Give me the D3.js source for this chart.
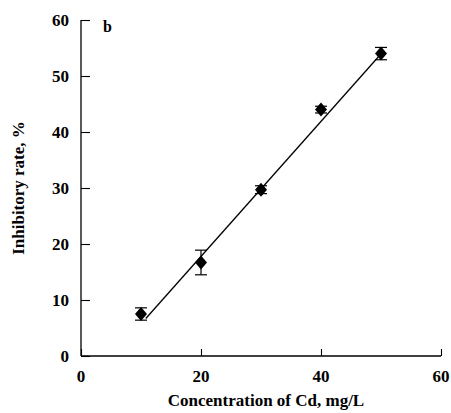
<!DOCTYPE html>
<html><head><meta charset="utf-8">
<script src="https://cdn.jsdelivr.net/npm/d3@7"></script>
<style>body{margin:0;background:#fff}svg{display:block}
text{font-family:"Liberation Serif","Times New Roman","DejaVu Serif",serif;font-weight:bold}</style>
</head><body>
<svg id="c" width="451" height="413"></svg>
<script>
const concentration = [10, 20, 30, 40, 50];
const inhibition = [7.5, 16.7, 29.7, 44.0, 54.0];
const errors = [1.1, 2.2, 0.7, 0.6, 1.1];
const fitX = [10.8, 49.8];
const fitY = [6.7, 53.7];
const xTicks = [0, 20, 40, 60];
const yTicks = [0, 10, 20, 30, 40, 50, 60];

const svg = d3.select("#c");
const x = d3.scaleLinear().domain([0, 60]).range([81, 441]);
const y = d3.scaleLinear().domain([0, 60]).range([356, 20]);

const yAxis = svg.append("g").attr("transform", "translate(81,0)")
  .call(d3.axisRight(y).tickValues(yTicks).tickSize(9).tickFormat(""));
const xAxis = svg.append("g").attr("transform", "translate(0,356)")
  .call(d3.axisTop(x).tickValues(xTicks).tickSize(7).tickFormat(""));
[yAxis, xAxis].forEach(a => {
  a.select(".domain").attr("stroke", "#000").attr("stroke-width", 1.3);
  a.selectAll(".tick line").attr("stroke", "#000").attr("stroke-width", 1.1);
});
xAxis.select(".domain").attr("d", "M81,0H441");
yAxis.select(".domain").attr("d", "M0,20V356");

svg.append("g").selectAll("text").data(yTicks).join("text")
  .attr("x", 69).attr("y", d => y(d)).attr("dy", "0.35em")
  .attr("text-anchor", "end").style("font-size", "17px").text(d => d);
svg.append("g").selectAll("text").data(xTicks).join("text")
  .attr("x", d => x(d)).attr("y", 382)
  .attr("text-anchor", "middle").style("font-size", "17px").text(d => d);

svg.append("text").attr("x", 266).attr("y", 406).attr("text-anchor", "middle")
  .style("font-size", "17px").text("Concentration of Cd, mg/L");
svg.append("text").attr("transform", "translate(24,188) rotate(-90)").attr("text-anchor", "middle")
  .style("font-size", "17px").text("Inhibitory rate, %");
svg.append("text").attr("x", 103).attr("y", 32).style("font-size", "16px").text("b");

// fit line
svg.append("line")
  .attr("x1", x(fitX[0])).attr("y1", y(fitY[0]))
  .attr("x2", x(fitX[1])).attr("y2", y(fitY[1]))
  .attr("stroke", "#000").attr("stroke-width", 1.3);

const pts = concentration.map((c, i) => ({c, v: inhibition[i], e: errors[i]}));
const eg = svg.append("g").attr("stroke", "#000").attr("stroke-width", 1.2);
pts.forEach(p => {
  const cx = x(p.c);
  eg.append("line").attr("x1", cx).attr("x2", cx).attr("y1", y(p.v + p.e)).attr("y2", y(p.v - p.e));
  eg.append("line").attr("x1", cx - 6).attr("x2", cx + 6).attr("y1", y(p.v + p.e)).attr("y2", y(p.v + p.e));
  eg.append("line").attr("x1", cx - 6).attr("x2", cx + 6).attr("y1", y(p.v - p.e)).attr("y2", y(p.v - p.e));
});
svg.append("g").selectAll("path").data(pts).join("path")
  .attr("d", p => {
    const cx = x(p.c), cy = y(p.v);
    return `M${cx},${cy - 7}L${cx + 6},${cy}L${cx},${cy + 7}L${cx - 6},${cy}Z`;
  })
  .attr("fill", "#000");
</script>
</body></html>
